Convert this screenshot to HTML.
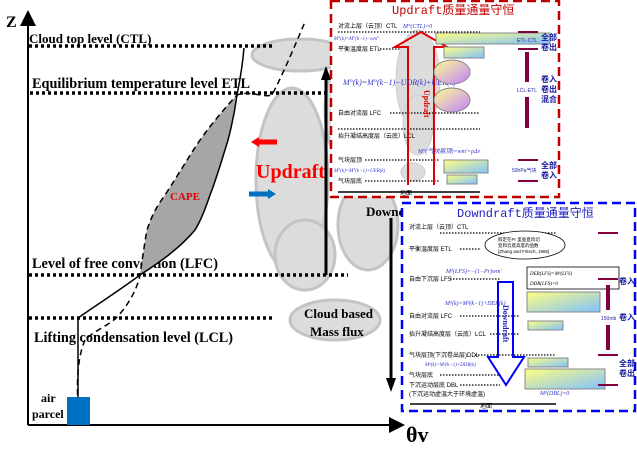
<!DOCTYPE html>
<html><head><meta charset="utf-8"><style>
html,body{margin:0;padding:0;background:#fff;width:637px;height:460px;overflow:hidden}
svg{display:block}
.s{font-family:"Liberation Serif",serif;font-weight:bold}
.c{font-family:"Liberation Sans","Noto Sans CJK SC",sans-serif}
</style></head><body>
<svg width="637" height="460" viewBox="0 0 637 460" xmlns="http://www.w3.org/2000/svg">
<defs>
<marker id="ah" markerWidth="8" markerHeight="8" refX="4" refY="4" orient="auto"><path d="M0,0 L8,4 L0,8 z" fill="#000"/></marker>
<linearGradient id="g1" x1="0" y1="0" x2="1" y2="1"><stop offset="0" stop-color="#ffff80"/><stop offset="1" stop-color="#80c0ff"/></linearGradient>
<linearGradient id="g2" x1="0" y1="0" x2="1" y2="1"><stop offset="0" stop-color="#ffff90"/><stop offset="1" stop-color="#c080ff"/></linearGradient>
</defs>
<!-- cloud -->
<g fill="#dcdcdc" stroke="#c4c4c4" stroke-width="3">
<ellipse cx="300" cy="55" rx="48" ry="16"/>
<ellipse cx="292" cy="180" rx="36" ry="92"/>
<ellipse cx="360" cy="110" rx="35" ry="65"/>
<ellipse cx="368" cy="225" rx="30" ry="45"/>
<ellipse cx="305" cy="255" rx="30" ry="35"/>
<ellipse cx="335" cy="320" rx="45" ry="20"/>
</g>
<!-- axes -->
<line x1="28" y1="425" x2="28" y2="18" stroke="#000" stroke-width="2" marker-end="url(#ah)"/>
<line x1="28" y1="425" x2="397" y2="425" stroke="#000" stroke-width="2" marker-end="url(#ah)"/>
<text x="6" y="27" class="s" font-size="16">Z</text>
<text x="406" y="442" class="s" font-size="22">θv</text>
<!-- dotted lines -->
<g stroke="#000" stroke-width="3.5" stroke-dasharray="3,3">
<line x1="29" y1="46" x2="275" y2="46"/>
<line x1="30" y1="93" x2="330" y2="93"/>
<line x1="29" y1="275" x2="348" y2="275"/>
<line x1="29" y1="318" x2="275" y2="318"/>
</g>
<text x="29" y="43" class="s" font-size="13">Cloud top level (CTL)</text>
<text x="32" y="88" class="s" font-size="15" textLength="218" lengthAdjust="spacingAndGlyphs">Equilibrium temperature level ETL</text>
<text x="32" y="268" class="s" font-size="15" textLength="186" lengthAdjust="spacingAndGlyphs">Level of free convection (LFC)</text>
<text x="34" y="342" class="s" font-size="15" textLength="199" lengthAdjust="spacingAndGlyphs">Lifting condensation level (LCL)</text>
<!-- CAPE -->
<path d="M140,275 C143,255 145,240 147,230 C153,212 158,205 165,195 C178,175 188,158 200,140 C213,122 225,108 237,95 C235,110 232,125 228,140 C222,160 216,180 210,195 C205,210 200,222 195,230 C180,248 160,262 140,275 Z" fill="#a6a6a6"/>
<path d="M78,425 L78,318 C95,306 120,290 140,275 C160,262 180,248 195,230 C200,222 205,210 210,195 C216,180 222,160 228,140 C232,125 235,110 237,95 C240,80 243,60 244,48" fill="none" stroke="#000" stroke-width="1.5"/>
<path d="M80,425 C76,395 76,360 85,340 C95,330 110,325 118,316 C128,305 137,290 140,275 C143,255 145,240 147,230 C153,212 158,205 165,195 C178,175 188,158 200,140 C213,122 225,108 237,95 C250,90 262,98 272,95 C285,70 295,45 305,22" fill="none" stroke="#000" stroke-width="1.5" stroke-dasharray="6,4"/>
<text x="170" y="200" class="s" font-size="11" fill="#e00000">CAPE</text>
<!-- parcel -->
<rect x="67" y="397" width="23" height="28" fill="#0070c0"/>
<text x="41" y="402" class="s" font-size="12">air</text>
<text x="32" y="418" class="s" font-size="12">parcel</text>
<!-- updraft arrows -->
<path d="M277,142 L258,142" stroke="#ff0000" stroke-width="5"/><path d="M251,142 L259,137 L259,147 z" fill="#ff0000"/>
<path d="M249,194 L268,194" stroke="#0070c0" stroke-width="5"/><path d="M276,194 L268,189 L268,199 z" fill="#0070c0"/>
<text x="256" y="178" class="s" font-size="20" fill="#ff0000">Updraft</text>
<line x1="326" y1="275" x2="326" y2="78" stroke="#000" stroke-width="3"/><path d="M326,66 L321,80 L331,80 z" fill="#000"/>
<line x1="391" y1="218" x2="391" y2="380" stroke="#000" stroke-width="3"/><path d="M391,392 L386,378 L396,378 z" fill="#000"/>
<text x="366" y="216" class="s" font-size="13">Downdraft</text>
<text x="304" y="318" class="s" font-size="13">Cloud based</text>
<text x="310" y="336" class="s" font-size="13">Mass flux</text>
<!-- updraft box -->
<rect x="331" y="1" width="228" height="196" fill="#fff" stroke="#c00000" stroke-width="2.5" stroke-dasharray="9,5"/>
<text x="392" y="14" font-family="Liberation Mono,'Noto Sans CJK SC',monospace" font-size="12" fill="#c00000">Updraft质量通量守恒</text>
<g fill="#dcdcdc" stroke="#ccc"><ellipse cx="418" cy="80" rx="22" ry="50"/><ellipse cx="418" cy="125" rx="15" ry="30"/><ellipse cx="413" cy="172" rx="12" ry="9"/></g>
<g class="c" font-size="6">
<text x="338" y="28">对流上层（云顶）CTL</text>
<text x="338" y="51">平衡温度层 ETL</text>
<text x="338" y="115">自由对流层 LFC</text>
<text x="338" y="138">抬升凝结高度层（云底）LCL</text>
<text x="338" y="162">气块层顶</text>
<text x="338" y="183">气块层底</text>
<text x="400" y="195">地面</text>
</g>
<g stroke="#000" stroke-width="1.2" stroke-dasharray="1.5,1.5">
<line x1="338" y1="32" x2="480" y2="32"/><line x1="380" y1="49" x2="400" y2="49"/>
<line x1="390" y1="113" x2="480" y2="113"/><line x1="338" y1="129" x2="480" y2="129"/>
<line x1="365" y1="160" x2="440" y2="160"/><line x1="365" y1="181" x2="440" y2="181"/>
</g>
<line x1="338" y1="192" x2="480" y2="192" stroke="#000" stroke-width="1.5"/>
<path d="M408,185 L408,47 L395,47 L421,32 L447,47 L434,47 L434,185" fill="none" stroke="#e00000" stroke-width="2"/>
<text x="424" y="90" font-size="8" fill="#e00000" class="s" transform="rotate(90 424 90)">Updraft</text>
<g font-family="Liberation Serif,serif" font-style="italic" fill="#3333cc">
<text x="403" y="28" font-size="6">M°(CTL)=0</text>
<text x="334" y="40" font-size="5">M°(k)=M°(k−1)−wm°</text>
<text x="343" y="85" font-size="8">M°(k)=M°(k−1)−UDR(k)+UER(k)</text>
<text x="418" y="153" font-size="6">M°(气块层顶)=wmʹ=ρΔv</text>
<text x="334" y="172" font-size="5">M°(k)=M°(k−1)+UER(k)</text>
</g>
<g stroke="#888" font-size="5" class="c">
<rect x="436" y="33" width="114" height="11" fill="url(#g1)"/>
<rect x="444" y="47" width="40" height="11" fill="url(#g1)"/>
<ellipse cx="452" cy="72" rx="18" ry="12" fill="url(#g2)"/>
<ellipse cx="452" cy="100" rx="18" ry="12" fill="url(#g2)"/>
<rect x="444" y="160" width="44" height="13" fill="url(#g1)"/>
<rect x="447" y="175" width="30" height="9" fill="url(#g1)"/>
</g>
<g stroke="#800040" stroke-width="2"><line x1="518" y1="32" x2="538" y2="32"/><line x1="518" y1="49" x2="538" y2="49"/><line x1="518" y1="160" x2="538" y2="160"/><line x1="518" y1="181" x2="538" y2="181"/></g>
<path d="M527,52 L527,82 M527,97 L527,128" stroke="#800040" stroke-width="4"/>
<g class="c" font-size="8" fill="#1a1aa0" font-weight="bold">
<text x="541" y="40">全部</text><text x="541" y="50">卷出</text>
<text x="541" y="82">卷入</text><text x="541" y="92">卷出</text><text x="541" y="102">混合</text>
<text x="541" y="168">全部</text><text x="541" y="178">卷入</text>
</g>
<g class="c" font-size="5" fill="#1a1aa0"><text x="517" y="42">ETL-CTL</text><text x="517" y="92">LCL-ETL</text><text x="512" y="172">50hPa气块</text></g>
<!-- downdraft box -->
<rect x="402" y="203" width="233" height="208" fill="#fff" stroke="#0000ff" stroke-width="2.5" stroke-dasharray="9,5"/>
<text x="457" y="217" font-family="Liberation Mono,'Noto Sans CJK SC',monospace" font-size="12" fill="#2020c0">Downdraft质量通量守恒</text>
<g class="c" font-size="6">
<text x="409" y="229">对流上层（云顶）CTL</text>
<text x="409" y="251">平衡温度层 ETL</text>
<text x="409" y="281">自由下沉层 LFS</text>
<text x="409" y="318">自由对流层 LFC</text>
<text x="409" y="336">抬升凝结高度层（云底）LCL</text>
<text x="409" y="357">气块层顶(下沉卷出层)DDL</text>
<text x="409" y="377">气块层底</text>
<text x="409" y="387">下沉运动层底 DBL</text>
<text x="409" y="396">(下沉运动虚温大于环境虚温)</text>
<text x="480" y="408">地面</text>
</g>
<g stroke="#000" stroke-width="1.2" stroke-dasharray="1.5,1.5">
<line x1="440" y1="233" x2="556" y2="233"/><line x1="460" y1="249" x2="480" y2="249"/>
<line x1="450" y1="279" x2="500" y2="279"/><line x1="460" y1="316" x2="520" y2="316"/>
<line x1="490" y1="334" x2="520" y2="334"/><line x1="475" y1="355" x2="556" y2="355"/>
<line x1="440" y1="375" x2="500" y2="375"/><line x1="460" y1="385" x2="500" y2="385"/>
</g>
<line x1="410" y1="404" x2="556" y2="404" stroke="#000" stroke-width="1.5"/>
<ellipse cx="525" cy="245" rx="40" ry="14" fill="#fff" stroke="#000" stroke-width="0.8"/>
<g class="c" font-size="4.5"><text x="498" y="241">假定在Pr 里垂直风切</text><text x="498" y="247">变和云底高度的函数</text><text x="498" y="253">[Zhang and Fritsch, 1986]</text></g>
<path d="M498,282 L498,357 L488,357 L506,385 L524,357 L513,357 L513,282 Z" fill="none" stroke="#0000ff" stroke-width="2"/>
<text x="503" y="305" font-size="8" fill="#2020c0" class="s" transform="rotate(90 503 305)">Downdraft</text>
<g font-family="Liberation Serif,serif" font-style="italic" fill="#3333cc">
<text x="446" y="273" font-size="6">Mᵈ(LFS)=−(1−Pr)wmʹ</text>
<text x="445" y="305" font-size="6">Mᵈ(k)=Mᵈ(k−1)+DER(k)</text>
<text x="425" y="366" font-size="5">Mᵈ(k)=Mᵈ(k−1)+DDR(k)</text>
<text x="540" y="395" font-size="6">Mᵈ(DBL)=0</text>
</g>
<rect x="527" y="267" width="92" height="22" fill="#fff" stroke="#000" stroke-width="0.8"/>
<g font-family="Liberation Serif,serif" font-style="italic" font-size="5"><text x="530" y="275">DER(LFS)=Mᵈ(LFS)</text><text x="530" y="285">DDR(LFS)=0</text></g>
<g stroke="#888" font-size="5" class="c">
<rect x="527" y="292" width="73" height="20" fill="url(#g1)"/>
<rect x="528" y="321" width="35" height="9" fill="url(#g1)"/>
<rect x="528" y="358" width="40" height="9" fill="url(#g1)"/>
<rect x="525" y="369" width="80" height="20" fill="url(#g1)"/>
</g>
<g stroke="#800040" stroke-width="2"><line x1="598" y1="233" x2="618" y2="233"/><line x1="598" y1="279" x2="618" y2="279"/><line x1="598" y1="355" x2="618" y2="355"/><line x1="598" y1="385" x2="618" y2="385"/></g>
<path d="M608,285 L608,310 M608,325 L608,350" stroke="#800040" stroke-width="4"/>
<g class="c" font-size="8" fill="#1a1aa0" font-weight="bold">
<text x="619" y="284">卷入</text><text x="619" y="320">卷入</text>
<text x="619" y="366">全部</text><text x="619" y="376">卷出</text>
</g>
<text x="601" y="320" class="c" font-size="5" fill="#1a1aa0">150mb</text>
</svg>
</body></html>
